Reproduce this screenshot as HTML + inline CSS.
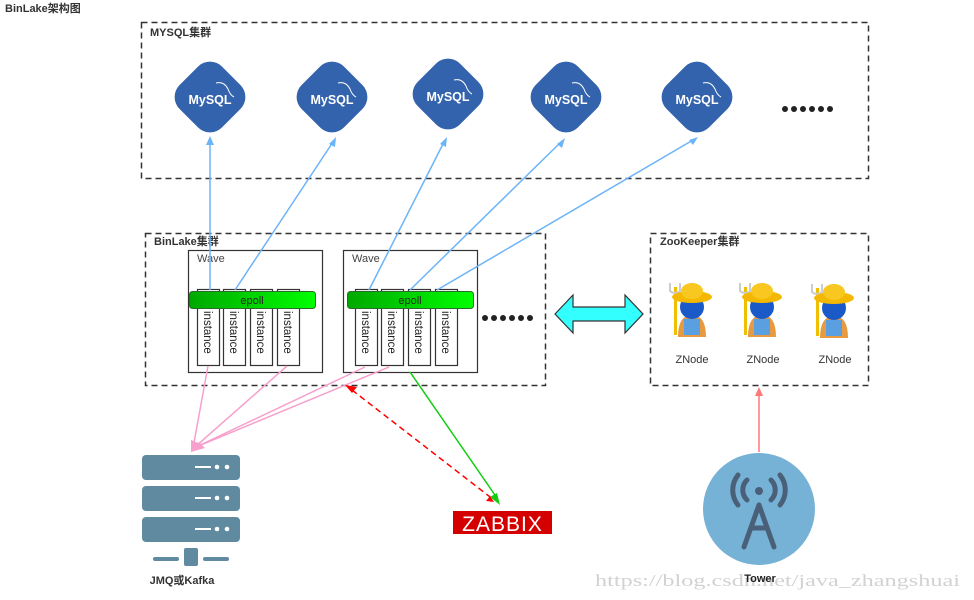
<!DOCTYPE html>
<html><head><meta charset="utf-8"><style>
html,body{margin:0;padding:0;background:#fff;}
svg{display:block;font-family:"Liberation Sans","Noto Sans CJK SC",sans-serif;}
</style></head><body>
<svg width="974" height="600" viewBox="0 0 974 600" xmlns="http://www.w3.org/2000/svg">
<defs>
<linearGradient id="ep" x1="0" x2="1"><stop offset="0" stop-color="#00a800"/><stop offset="1" stop-color="#00ff00"/></linearGradient>
<g id="my">
<rect x="-30" y="-30" width="60" height="60" rx="17" fill="#3463ae" transform="rotate(45)"/>
<text x="0" y="7" font-size="12.5" font-weight="bold" fill="#fff" text-anchor="middle">MySQL</text>
<path d="M6,-14 q8,-2 12,6 q2,6 6,8" stroke="#fff" stroke-width="1" fill="none"/>
</g>
<g id="zn">
<rect x="-18" y="-28" width="3" height="48" fill="#f0c000"/>
<path d="M-22,-32 v8 q5,4 10,0 v-8" stroke="#ccc" stroke-width="2" fill="none"/>
<path d="M-14,22 q0,-22 14,-22 q14,0 14,22z" fill="#e89a40"/>
<rect x="-8" y="4" width="16" height="16" fill="#5aa0e0"/>
<circle cx="0" cy="-8" r="12" fill="#1a5ac8"/>
<ellipse cx="0" cy="-18" rx="20" ry="6" fill="#f5b800"/>
<ellipse cx="0" cy="-24" rx="11" ry="8" fill="#f8c820"/>
</g>
<g id="dots" fill="#222">
<circle cx="0" cy="0" r="3"/><circle cx="9" cy="0" r="3"/><circle cx="18" cy="0" r="3"/>
<circle cx="27" cy="0" r="3"/><circle cx="36" cy="0" r="3"/><circle cx="45" cy="0" r="3"/>
</g>
</defs>
<text x="5" y="12" font-size="11" font-weight="bold" fill="#333">BinLake架构图</text>

<rect x="141.5" y="22.5" width="727" height="156" fill="none" stroke="#333" stroke-width="1.5" stroke-dasharray="6,4"/>
<text x="150" y="36" font-size="11" font-weight="bold" fill="#333">MYSQL集群</text>
<use href="#my" x="210" y="97"/>
<use href="#my" x="332" y="97"/>
<use href="#my" x="448" y="94"/>
<use href="#my" x="566" y="97"/>
<use href="#my" x="697" y="97"/>
<use href="#dots" x="785" y="109"/>

<rect x="145.5" y="233.5" width="400" height="152" fill="none" stroke="#333" stroke-width="1.5" stroke-dasharray="6,4"/>
<text x="154" y="245" font-size="11" font-weight="bold" fill="#333">BinLake集群</text>
<rect x="650.5" y="233.5" width="218" height="152" fill="none" stroke="#333" stroke-width="1.5" stroke-dasharray="6,4"/>
<text x="660" y="245" font-size="11" font-weight="bold" fill="#333">ZooKeeper集群</text>

<g stroke="#333" stroke-width="1.2" fill="#fff">
<rect x="188.5" y="250.5" width="134" height="122"/>
<rect x="343.5" y="250.5" width="134" height="122"/>
<rect x="197.5" y="289.5" width="22" height="76"/><rect x="223.5" y="289.5" width="22" height="76"/>
<rect x="250.5" y="289.5" width="22" height="76"/><rect x="277.5" y="289.5" width="22" height="76"/>
<rect x="355.5" y="289.5" width="22" height="76"/><rect x="381.5" y="289.5" width="22" height="76"/>
<rect x="408.5" y="289.5" width="22" height="76"/><rect x="435.5" y="289.5" width="22" height="76"/>
</g>
<text x="197" y="262" font-size="11" fill="#444">Wave</text>
<text x="352" y="262" font-size="11" fill="#444">Wave</text>
<rect x="189.5" y="291.5" width="126" height="17" rx="3" fill="url(#ep)" stroke="#2a6a2a"/>
<rect x="347.5" y="291.5" width="126" height="17" rx="3" fill="url(#ep)" stroke="#2a6a2a"/>
<text x="252" y="304" font-size="11" fill="#222" text-anchor="middle">epoll</text>
<text x="410" y="304" font-size="11" fill="#222" text-anchor="middle">epoll</text>
<g font-size="11.5" fill="#222">
<text transform="translate(204,311) rotate(90)">instance</text>
<text transform="translate(230,311) rotate(90)">instance</text>
<text transform="translate(257,311) rotate(90)">instance</text>
<text transform="translate(284,311) rotate(90)">instance</text>
<text transform="translate(362,311) rotate(90)">instance</text>
<text transform="translate(388,311) rotate(90)">instance</text>
<text transform="translate(415,311) rotate(90)">instance</text>
<text transform="translate(442,311) rotate(90)">instance</text>
</g>
<use href="#dots" x="485" y="318"/>

<path d="M555,314 L573,295 L573,307 L625,307 L625,295 L643,314 L625,333 L625,321 L573,321 L573,333 Z" fill="#33ffff" stroke="#333" stroke-width="1.2"/>

<use href="#zn" x="692" y="315"/>
<use href="#zn" x="762" y="315"/>
<use href="#zn" x="834" y="316"/>
<g font-size="11" fill="#333" text-anchor="middle">
<text x="692" y="363">ZNode</text><text x="763" y="363">ZNode</text><text x="835" y="363">ZNode</text>
</g>

<g stroke="#6cb4f8" stroke-width="1.5" fill="none">
<line x1="210" y1="290" x2="210" y2="142"/>
<line x1="235" y1="290" x2="333" y2="142"/>
<line x1="369" y1="290" x2="444" y2="142"/>
<line x1="410" y1="290" x2="561" y2="142"/>
<line x1="437" y1="290" x2="693" y2="140"/>
</g>
<g fill="#6cb4f8">
<path d="M210,136 l-4,9 h8z"/>
<path d="M336,137 l-7,7 l6,3z"/>
<path d="M447,137 l-7,7 l6,3z"/>
<path d="M565,138 l-8,6 l5,4z"/>
<path d="M698,137 l-9,3 l4,5z"/>
</g>

<g stroke="#f7a0cc" stroke-width="1.5">
<line x1="208" y1="366" x2="193" y2="448"/>
<line x1="287" y1="366" x2="195" y2="447"/>
<line x1="365" y1="367" x2="196" y2="447"/>
<line x1="389" y1="367" x2="196" y2="447"/>
</g>
<path d="M191,452 l0,-12 l10,4z M191,452 l8,-10 l6,6z" fill="#f7a0cc"/>

<line x1="352" y1="390" x2="494" y2="500" stroke="#f00" stroke-width="1.5" stroke-dasharray="6,4"/>
<path d="M345,385 l12,2 l-5,6z" fill="#f00"/>
<line x1="410" y1="372" x2="497" y2="498" stroke="#1c1" stroke-width="1.5"/>
<path d="M500,505 l-10,-8 l7,-4z" fill="#1c1"/>
<path d="M494,502 l-8,-1 l4,-5z" fill="#f00"/>

<rect x="453" y="511" width="99" height="23" fill="#d40000"/>
<text x="502.5" y="531" font-size="21" fill="#fff" text-anchor="middle" letter-spacing="1">ZABBIX</text>

<g fill="#5f8aa0">
<rect x="142" y="455" width="98" height="25" rx="4"/>
<rect x="142" y="486" width="98" height="25" rx="4"/>
<rect x="142" y="517" width="98" height="25" rx="4"/>
<rect x="153" y="557" width="26" height="4" rx="2"/>
<rect x="203" y="557" width="26" height="4" rx="2"/>
<rect x="184" y="548" width="14" height="18" rx="2"/>
</g>
<g fill="#fff">
<rect x="195" y="466" width="16" height="2"/><circle cx="217" cy="467" r="2.3"/><circle cx="227" cy="467" r="2.3"/>
<rect x="195" y="497" width="16" height="2"/><circle cx="217" cy="498" r="2.3"/><circle cx="227" cy="498" r="2.3"/>
<rect x="195" y="528" width="16" height="2"/><circle cx="217" cy="529" r="2.3"/><circle cx="227" cy="529" r="2.3"/>
</g>
<text x="182" y="584" font-size="11" font-weight="bold" fill="#333" text-anchor="middle">JMQ或Kafka</text>

<line x1="759" y1="452" x2="759" y2="395" stroke="#f77" stroke-width="1.5"/>
<path d="M759,387 l-4,9 h8z" fill="#f77"/>
<circle cx="759" cy="509" r="56" fill="#76b2d6"/>
<g stroke="#4a6078" stroke-width="5" fill="none" stroke-linecap="round">
<line x1="759" y1="505" x2="744" y2="547"/><line x1="759" y1="505" x2="774" y2="547"/>
<line x1="751" y1="528" x2="767" y2="528"/>
<path d="M747,480 a14,14 0 0 0 0,20"/><path d="M771,480 a14,14 0 0 1 0,20"/>
<path d="M738,475 a24,24 0 0 0 0,30"/><path d="M780,475 a24,24 0 0 1 0,30"/>
</g>
<circle cx="759" cy="491" r="4" fill="#4a6078"/>
<text x="595" y="586" font-size="16.5" font-family="Liberation Serif,serif" fill="#d2d2d2" textLength="365" lengthAdjust="spacingAndGlyphs">https://blog.csdn.net/java_zhangshuai</text>
<text x="760" y="582" font-size="11" font-weight="bold" fill="#222" text-anchor="middle">Tower</text>
</svg>
</body></html>
